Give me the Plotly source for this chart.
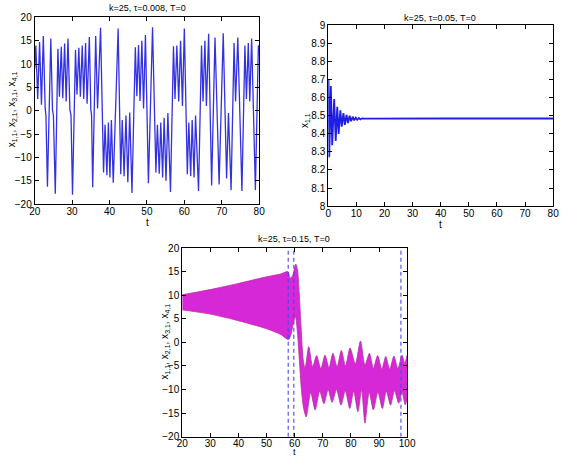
import plotly.graph_objects as go

# ---------------- data ----------------
# top-left: k=25, tau=0.008 (extrema of the trace)
tl_t = [20.0, 20.3, 20.8, 21.3, 21.8, 22.3, 22.8, 23.0, 23.4, 23.8, 24.3, 24.75, 25.0, 25.5,
        26.2, 26.6, 27.1, 27.5, 28.0, 28.4, 28.9, 29.4, 29.7, 30.1,
        30.9, 31.3, 31.8, 32.2, 32.7, 33.1, 33.6, 34.0, 34.6, 35.0, 35.2, 35.5,
        36.3, 36.8, 37.6, 38.4, 38.8, 39.3, 39.7, 40.1, 40.5, 41.0, 41.6, 42.3,
        43.0, 43.4, 43.9, 44.4, 44.9, 45.4, 46.0,
        46.9, 47.3, 47.75, 48.15, 48.65, 49.1, 49.6, 50.4, 50.9, 51.5,
        52.4, 52.8, 53.3, 53.7, 54.2, 54.6, 55.1, 55.6, 56.3,
        57.1, 57.5, 58.0, 58.5, 59.0, 59.5, 60.0,
        60.8, 61.2, 61.7, 62.1, 62.6, 63.0, 63.8,
        64.6, 65.0, 65.5, 65.9, 66.5, 66.9, 67.3, 68.2, 68.7, 69.3, 70.4,
        71.3, 71.8, 72.5, 73.3, 73.7, 74.3, 74.8, 75.4,
        76.2, 76.6, 77.1, 77.5, 78.0, 78.5, 79.0, 79.8, 80.0]
tl_x = [9.0, 14.0, 2.5, 14.7, 1.3, 16.0, 0.5, -1.0, -16.3, 0.0, 15.5, 0.2, -1.0, -17.8,
        13.3, 3.0, 13.7, 2.7, 14.4, 2.0, 15.5, 0.3, -1.0, -18.0,
        13.0, 3.5, 13.5, 3.0, 14.0, 2.5, 14.5, 1.5, 15.8, 0.3, -1.0, -16.4,
        16.0, 0.5, 17.8, -13.2, -3.0, -13.8, -2.5, -14.3, -2.0, -15.4, 0.5, 17.6,
        -13.6, -2.0, -14.0, -1.0, -15.3, -0.4, -17.6,
        13.6, 3.1, 14.1, 2.1, 15.0, 0.5, 16.2, -15.5, 0.0, 17.9,
        -13.2, -3.0, -13.5, -2.5, -14.3, -1.5, -15.0, -0.5, -17.4,
        13.8, 2.5, 14.0, 2.0, 15.0, 1.0, 17.6,
        -13.6, -2.5, -14.0, -2.0, -14.3, -1.0, -17.2,
        14.0, 2.0, 15.0, 1.0, 16.5, 0.0, -16.0, 15.7, 0.3, -15.8, 16.6,
        -14.5, -0.5, -17.0, 14.5, 2.0, 15.7, 0.0, -17.2,
        14.0, 2.5, 14.5, 2.0, 15.5, 0.0, -17.0, 14.0, 12.0]

# top-right: k=25, tau=0.05
tr_t = [0, 0.1, 0.35, 0.92, 1.4, 2.1, 2.65, 3.2, 3.7, 4.3, 4.8, 5.4, 5.9, 6.5, 7.0, 7.6,
        8.1, 8.7, 9.2, 9.8, 10.3, 10.9, 11.4, 12.0, 13, 20, 30, 40, 50, 60, 70, 80]
tr_v = [8.50, 8.70, 8.27, 8.665, 8.337, 8.593, 8.36, 8.55, 8.40, 8.53, 8.44, 8.515, 8.45,
        8.505, 8.46, 8.50, 8.47, 8.495, 8.475, 8.49, 8.478, 8.488, 8.48, 8.486,
        8.484, 8.485, 8.485, 8.485, 8.485, 8.485, 8.485, 8.485]

# bottom: k=25, tau=0.15 -- upper and lower envelopes of the dense band
up_t = [20, 30, 40, 50, 55, 57.6, 58.4, 59.3, 60.4, 61.0, 61.6, 62.3, 63.0, 63.7, 65.0,
        66.4, 67.8, 69.3, 70.8, 72.2, 73.6, 75.1, 76.6, 78.1, 79.7, 81.6, 83.4, 85.0,
        86.6, 88.0, 89.5, 91.0, 92.4, 93.8, 95.3, 96.7, 98.2, 99.2, 100]
up_v = [10.1, 11.2, 12.5, 13.9, 14.5, 15.0, 13.6, 14.2, 16.6, 15.4, 10.5, 3.0, -3.5, -5.5,
        -0.9, -5.2, -2.8, -5.6, -2.7, -5.4, -2.3, -5.2, -1.7, -5.0, -1.2, -4.6, 0.3, -4.8,
        -2.3, -5.5, -2.8, -5.7, -3.0, -5.7, -2.9, -5.6, -2.7, -4.5, -2.8]
lo_t = [20, 30, 40, 50, 55, 57.8, 58.6, 59.5, 60.3, 61.0, 61.7, 62.4, 63.2, 64.1, 65.7,
        67.3, 68.9, 70.4, 71.9, 73.3, 74.9, 76.5, 78.0, 79.6, 81.0, 82.5, 83.8, 85.0,
        86.5, 88.0, 89.6, 91.2, 92.6, 94.1, 95.5, 97.0, 98.2, 99.3, 100]
lo_v = [6.9, 6.0, 4.6, 2.9, 1.7, 0.6, 1.5, 4.0, 5.5, 2.0, -4.0, -10.0, -14.0, -15.8, -10.6,
        -14.3, -10.3, -13.0, -10.0, -12.7, -10.0, -13.3, -10.2, -14.0, -10.3, -14.7, -10.0,
        -17.1, -10.5, -14.3, -10.5, -14.0, -10.3, -13.3, -10.2, -12.9, -10.5, -13.2, -12.0]
dash_t = [57.7, 59.7, 97.8]

titles = ["k=25, τ=0.008, T=0", "k=25, τ=0.05, T=0", "k=25, τ=0.15, T=0"]
ylab_multi = "x<sub>1,1</sub>, x<sub>2,1</sub>, x<sub>3,1</sub>, x<sub>4,1</sub>"
ylab_single = "x<sub>1,1</sub>"

# ---------------- figure ----------------
W, H = 568, 461
FONT = "Liberation Sans, Arial, Helvetica, sans-serif"
fig = go.Figure()

fig.add_trace(go.Scatter(x=tl_t, y=tl_x, mode="lines", xaxis="x", yaxis="y",
                         line=dict(color="rgb(50,50,225)", width=1.3), showlegend=False))
fig.add_trace(go.Scatter(x=tr_t, y=tr_v, mode="lines", xaxis="x2", yaxis="y2",
                         line=dict(color="rgb(30,30,230)", width=1.8), showlegend=False))

band_x = up_t + lo_t[::-1]
band_y = up_v + lo_v[::-1]
fig.add_trace(go.Scatter(x=band_x, y=band_y, mode="lines", fill="toself", xaxis="x3", yaxis="y3",
                         fillcolor="rgb(215,40,215)",
                         line=dict(color="rgb(185,45,160)", width=0.8, shape="spline", smoothing=0.7),
                         showlegend=False))
for d in dash_t:
    fig.add_trace(go.Scatter(x=[d, d], y=[-20, 20], mode="lines", xaxis="x3", yaxis="y3",
                             line=dict(color="rgb(70,70,240)", width=1.1, dash="4px,3px"),
                             showlegend=False))

def ax(domain, rng, dtick, anchor, standoff=0):
    return dict(domain=domain, range=rng, dtick=dtick, tick0=rng[0], anchor=anchor,
                showline=True, linecolor="black", linewidth=1, mirror="ticks",
                ticks="inside", ticklen=4, tickcolor="black", showgrid=False,
                zeroline=False, ticklabelstandoff=standoff,
                tickfont=dict(family=FONT, size=10, color="black"))

def px(x):
    return x / W

def py(y):
    return 1 - y / H

fig.update_layout(
    width=W, height=H, margin=dict(l=0, r=0, t=0, b=0),
    paper_bgcolor="white", plot_bgcolor="white",
    xaxis=ax([px(29.5), px(260)], [20, 80], 10, "y", -2),
    yaxis=ax([py(204), py(12.7)], [-20, 20], 5, "x"),
    xaxis2=ax([px(331), px(562)], [0, 80], 10, "y2", -2),
    yaxis2=ax([py(206), py(21)], [8, 9], 0.1, "x2"),
    xaxis3=ax([px(181), px(412)], [20, 100], 10, "y3", -3),
    yaxis3=ax([py(442.3), py(249)], [-20, 20], 5, "x3"),
)

ann = []
def text(x, y, s, size, angle=0):
    ann.append(dict(x=px(x), y=py(y), xref="paper", yref="paper", text=s, showarrow=False,
                    xanchor="center", yanchor="middle", textangle=angle,
                    font=dict(family=FONT, size=size, color="black")))

text(145, 3, titles[0], 9)
text(446, 13, titles[1], 9)
text(296, 240, titles[2], 9)
text(145, 223, "t", 10)
text(446, 225, "t", 10)
text(296, 458, "t", 9)
text(7, 107, ylab_multi, 10, -90)
text(307, 118, ylab_single, 10, -90)
text(163, 345, ylab_multi, 10, -90)
fig.update_layout(annotations=ann)

fig.write_html("out.html")
